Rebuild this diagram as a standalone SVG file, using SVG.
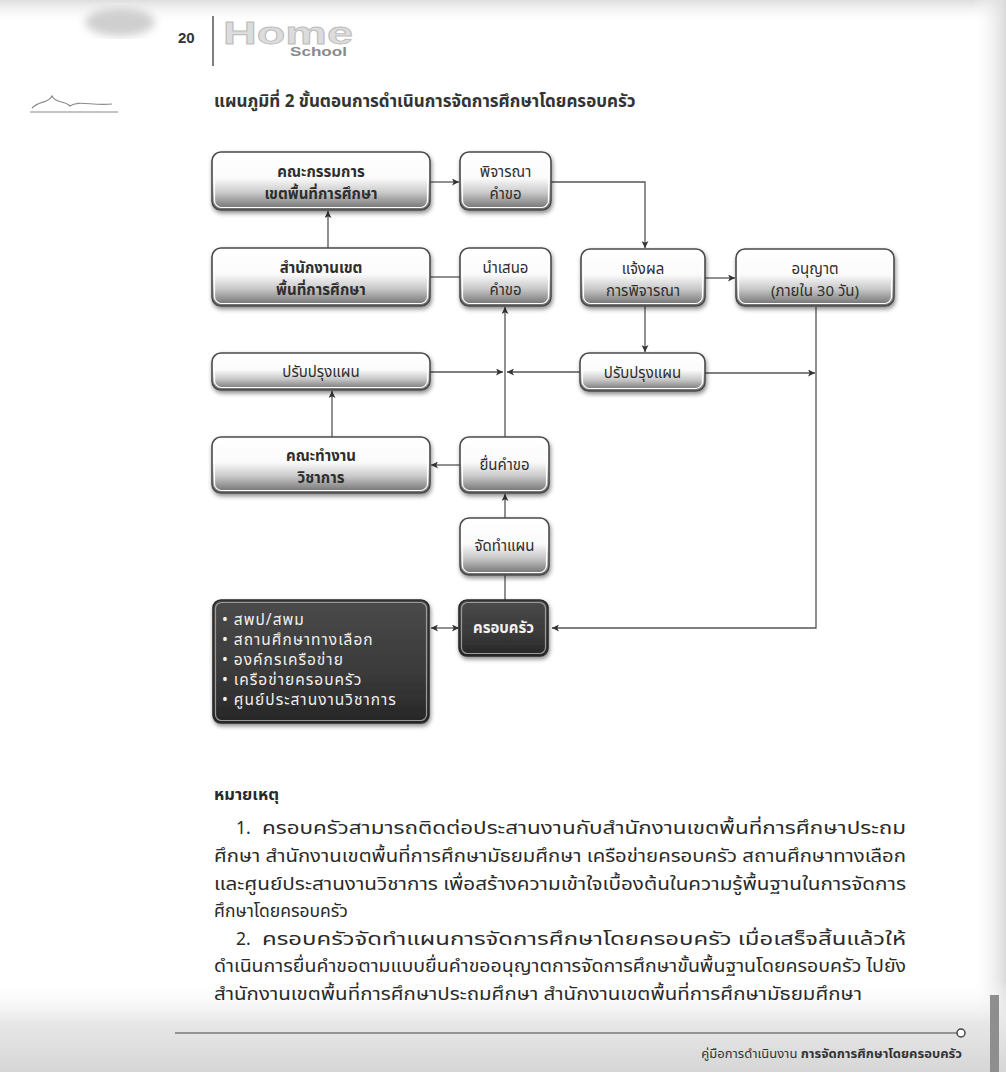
<svg xmlns="http://www.w3.org/2000/svg" width="1006" height="1072" viewBox="0 0 1006 1072">
<style>
  .th { font-family: "Noto Sans Thai", "Noto Sans Thai UI", "Loma", "Garuda", "Tlwg Typo", "Noto Sans", "DejaVu Sans", sans-serif; }
  .nt { font-size: 15px; fill: #2e2e2e; text-anchor: middle; }
  .nb { font-weight: bold; }
  .dt { font-size: 15px; fill: #f2f2f2; }
  .lt { font-size: 15.5px; fill: #f0f0f0; letter-spacing: 1px; }
  .note { font-size: 17.5px; fill: #2a2a2a; }
  .box { fill: url(#gLight); stroke: #4a4a4a; stroke-width: 1.6; filter: url(#sh); }
  .inner { fill: none; stroke: #ffffff; stroke-width: 1.2; }
  .dbox { fill: url(#gDark); stroke: #2a2a2a; stroke-width: 1.6; filter: url(#sh); }
  .dinner { fill: none; stroke: #9a9a9a; stroke-width: 1.2; }
  .ln { fill: none; stroke: #555; stroke-width: 1.3; }
</style>
<defs>
  <linearGradient id="gLight" x1="0" y1="0" x2="0" y2="1">
    <stop offset="0" stop-color="#ffffff"/>
    <stop offset="0.45" stop-color="#fbfbfb"/>
    <stop offset="0.7" stop-color="#c9c9c9"/>
    <stop offset="1" stop-color="#6a6a6a"/>
  </linearGradient>
  <linearGradient id="gDark" x1="0" y1="0" x2="0" y2="1">
    <stop offset="0" stop-color="#4a4a4a"/>
    <stop offset="0.6" stop-color="#3a3a3a"/>
    <stop offset="1" stop-color="#262626"/>
  </linearGradient>
  <linearGradient id="gFoot" x1="0" y1="0" x2="0" y2="1">
    <stop offset="0" stop-color="#ffffff" stop-opacity="0"/>
    <stop offset="0.45" stop-color="#e8e8e8"/>
    <stop offset="1" stop-color="#d6d6d6"/>
  </linearGradient>
  <linearGradient id="gTop" x1="0" y1="0" x2="0" y2="1">
    <stop offset="0" stop-color="#dedede"/>
    <stop offset="1" stop-color="#ffffff" stop-opacity="0"/>
  </linearGradient>
  <linearGradient id="gRight" x1="0" y1="0" x2="1" y2="0">
    <stop offset="0" stop-color="#ffffff" stop-opacity="0"/>
    <stop offset="1" stop-color="#dadada"/>
  </linearGradient>
  <filter id="sh" x="-20%" y="-30%" width="140%" height="170%">
    <feDropShadow dx="1" dy="2.5" stdDeviation="2" flood-color="#000" flood-opacity="0.45"/>
  </filter>
  <filter id="blur"><feGaussianBlur stdDeviation="4"/></filter>
  <marker id="ah" viewBox="0 0 10 10" refX="10" refY="5" markerWidth="9" markerHeight="7" markerUnits="userSpaceOnUse" orient="auto-start-reverse">
    <path d="M0,0 L10,5 L0,10 L2.5,5 Z" fill="#333"/>
  </marker>
</defs>

<!-- page decoration -->
<rect x="0" y="0" width="1006" height="1072" fill="#ffffff"/>
<rect x="0" y="0" width="1006" height="24" fill="url(#gTop)"/>
<ellipse cx="120" cy="22" rx="35" ry="14" fill="#cfcfcf" filter="url(#blur)"/>
<rect x="972" y="0" width="34" height="1072" fill="url(#gRight)"/>
<rect x="0" y="980" width="1006" height="92" fill="url(#gFoot)"/>
<rect x="990" y="995" width="9" height="77" fill="#8e8e8e"/>
<path d="M32,108 C40,100 48,104 52,96 C56,104 64,100 70,106 C78,100 92,106 112,104 M30,112 H118" fill="none" stroke="#8a8a8a" stroke-width="1.2"/>

<!-- header -->
<g id="header">
  <text x="178" y="43" font-family="'Liberation Sans', Arial, sans-serif" font-size="15" font-weight="bold" fill="#333">20</text>
  <line x1="213" y1="16" x2="213" y2="66" stroke="#555" stroke-width="1.5"/>
  <text x="223" y="44" font-family="'Liberation Sans', Arial, sans-serif" font-size="31" font-weight="bold" fill="#dcdcdc" stroke="#bdbdbd" stroke-width="0.8" textLength="130" lengthAdjust="spacingAndGlyphs">Home</text>
  <text x="290" y="56" font-family="'Liberation Sans', Arial, sans-serif" font-size="13" font-weight="bold" fill="#8a8a8a" textLength="57" lengthAdjust="spacingAndGlyphs">School</text>
</g>

<text class="th" x="214" y="107" font-size="17" font-weight="bold" fill="#333">แผนภูมิที่ 2 ขั้นตอนการดำเนินการจัดการศึกษาโดยครอบครัว</text>

<!-- connectors -->
<g id="connectors">
  <path class="ln" d="M430,182 H459" marker-end="url(#ah)"/>
  <path class="ln" d="M551,182 H645 V248" marker-end="url(#ah)"/>
  <path class="ln" d="M328,248 V211" marker-end="url(#ah)"/>
  <path class="ln" d="M430,277 H460"/>
  <path class="ln" d="M705,278 H735" marker-end="url(#ah)"/>
  <path class="ln" d="M645,306 V352" marker-end="url(#ah)"/>
  <path class="ln" d="M505,437 V307" marker-end="url(#ah)"/>
  <path class="ln" d="M430,372 H503" marker-end="url(#ah)"/>
  <path class="ln" d="M580,372 H507" marker-end="url(#ah)"/>
  <path class="ln" d="M705,373 H815" marker-end="url(#ah)"/>
  <path class="ln" d="M816,307 V628 H552" marker-end="url(#ah)"/>
  <path class="ln" d="M332,437 V391" marker-end="url(#ah)"/>
  <path class="ln" d="M460,465 H431" marker-end="url(#ah)"/>
  <path class="ln" d="M505,518 V494" marker-end="url(#ah)"/>
  <path class="ln" d="M505,600 V575"/>
  <path class="ln" d="M431,628 H459" marker-start="url(#ah)" marker-end="url(#ah)"/>
</g>

<!-- nodes -->
<g id="n-committee">
  <rect class="box" x="212" y="152" width="218" height="58" rx="9"/>
  <rect class="inner" x="214.5" y="154.5" width="213" height="53" rx="7"/>
  <text class="th nt nb" x="321" y="177">คณะกรรมการ</text>
  <text class="th nt nb" x="321" y="199">เขตพื้นที่การศึกษา</text>
</g>
<g id="n-consider">
  <rect class="box" x="460" y="152" width="91" height="58" rx="9"/>
  <rect class="inner" x="462.5" y="154.5" width="86" height="53" rx="7"/>
  <text class="th nt" x="505.5" y="177">พิจารณา</text>
  <text class="th nt" x="505.5" y="199">คำขอ</text>
</g>
<g id="n-office">
  <rect class="box" x="212" y="248" width="218" height="58" rx="9"/>
  <rect class="inner" x="214.5" y="250.5" width="213" height="53" rx="7"/>
  <text class="th nt nb" x="321" y="273">สำนักงานเขต</text>
  <text class="th nt nb" x="321" y="295">พื้นที่การศึกษา</text>
</g>
<g id="n-present">
  <rect class="box" x="460" y="248" width="91" height="58" rx="9"/>
  <rect class="inner" x="462.5" y="250.5" width="86" height="53" rx="7"/>
  <text class="th nt" x="505.5" y="273">นำเสนอ</text>
  <text class="th nt" x="505.5" y="295">คำขอ</text>
</g>
<g id="n-notify">
  <rect class="box" x="581" y="249" width="124" height="57" rx="9"/>
  <rect class="inner" x="583.5" y="251.5" width="119" height="52" rx="7"/>
  <text class="th nt" x="643" y="274">แจ้งผล</text>
  <text class="th nt" x="643" y="296">การพิจารณา</text>
</g>
<g id="n-permit">
  <rect class="box" x="736" y="249" width="158" height="57" rx="9"/>
  <rect class="inner" x="738.5" y="251.5" width="153" height="52" rx="7"/>
  <text class="th nt" x="815" y="274">อนุญาต</text>
  <text class="th nt" x="815" y="296">(ภายใน 30 วัน)</text>
</g>
<g id="n-revise-left">
  <rect class="box" x="212" y="353" width="218" height="37" rx="9"/>
  <rect class="inner" x="214.5" y="355.5" width="213" height="32" rx="7"/>
  <text class="th nt" x="321" y="377">ปรับปรุงแผน</text>
</g>
<g id="n-revise-right">
  <rect class="box" x="580" y="353" width="125" height="38" rx="9"/>
  <rect class="inner" x="582.5" y="355.5" width="120" height="33" rx="7"/>
  <text class="th nt" x="642.5" y="378">ปรับปรุงแผน</text>
</g>
<g id="n-workgroup">
  <rect class="box" x="212" y="437" width="218" height="56" rx="9"/>
  <rect class="inner" x="214.5" y="439.5" width="213" height="51" rx="7"/>
  <text class="th nt nb" x="321" y="461">คณะทำงาน</text>
  <text class="th nt nb" x="321" y="483">วิชาการ</text>
</g>
<g id="n-submit">
  <rect class="box" x="460" y="437" width="89" height="56" rx="9"/>
  <rect class="inner" x="462.5" y="439.5" width="84" height="51" rx="7"/>
  <text class="th nt" x="504.5" y="470">ยื่นคำขอ</text>
</g>
<g id="n-plan">
  <rect class="box" x="460" y="518" width="89" height="57" rx="9"/>
  <rect class="inner" x="462.5" y="520.5" width="84" height="52" rx="7"/>
  <text class="th nt" x="504.5" y="551">จัดทำแผน</text>
</g>
<g id="n-family">
  <rect class="dbox" x="459" y="600" width="89" height="56" rx="8"/>
  <rect class="dinner" x="461.5" y="602.5" width="84" height="51" rx="6"/>
  <text class="th dt nb" x="503.5" y="633" text-anchor="middle">ครอบครัว</text>
</g>
<g id="n-network">
  <rect class="dbox" x="213" y="600" width="216" height="123" rx="8"/>
  <rect class="dinner" x="215.5" y="602.5" width="211" height="118" rx="6"/>
  <text class="th lt" x="222" y="625">• สพป/สพม</text>
  <text class="th lt" x="222" y="645">• สถานศึกษาทางเลือก</text>
  <text class="th lt" x="222" y="665">• องค์กรเครือข่าย</text>
  <text class="th lt" x="222" y="685">• เครือข่ายครอบครัว</text>
  <text class="th lt" x="222" y="705">• ศูนย์ประสานงานวิชาการ</text>
</g>

<!-- notes -->
<g id="notes" class="th note">
  <text x="214" y="800" font-weight="bold" font-size="16.5">หมายเหตุ</text>
  <text x="236" y="834">1.</text>
  <text x="262" y="834" textLength="644" lengthAdjust="spacingAndGlyphs">ครอบครัวสามารถติดต่อประสานงานกับสำนักงานเขตพื้นที่การศึกษาประถม</text>
  <text x="214" y="862" textLength="692" lengthAdjust="spacingAndGlyphs">ศึกษา สำนักงานเขตพื้นที่การศึกษามัธยมศึกษา เครือข่ายครอบครัว สถานศึกษาทางเลือก</text>
  <text x="214" y="890" textLength="692" lengthAdjust="spacingAndGlyphs">และศูนย์ประสานงานวิชาการ เพื่อสร้างความเข้าใจเบื้องต้นในความรู้พื้นฐานในการจัดการ</text>
  <text x="214" y="917">ศึกษาโดยครอบครัว</text>
  <text x="236" y="945">2.</text>
  <text x="262" y="945" textLength="644" lengthAdjust="spacingAndGlyphs">ครอบครัวจัดทำแผนการจัดการศึกษาโดยครอบครัว เมื่อเสร็จสิ้นแล้วให้</text>
  <text x="214" y="972" textLength="692" lengthAdjust="spacingAndGlyphs">ดำเนินการยื่นคำขอตามแบบยื่นคำขออนุญาตการจัดการศึกษาขั้นพื้นฐานโดยครอบครัว ไปยัง</text>
  <text x="214" y="1000" textLength="648" lengthAdjust="spacingAndGlyphs">สำนักงานเขตพื้นที่การศึกษาประถมศึกษา สำนักงานเขตพื้นที่การศึกษามัธยมศึกษา</text>
</g>

<!-- footer -->
<g id="footer">
  <line x1="175" y1="1033" x2="957" y2="1033" stroke="#444" stroke-width="1.2"/>
  <circle cx="961" cy="1033" r="4" fill="#fff" stroke="#444" stroke-width="1.5"/>
  <text class="th" x="962" y="1058" font-size="13" fill="#333" text-anchor="end">คู่มือการดำเนินงาน <tspan font-weight="bold">การจัดการศึกษาโดยครอบครัว</tspan></text>
</g>
</svg>
